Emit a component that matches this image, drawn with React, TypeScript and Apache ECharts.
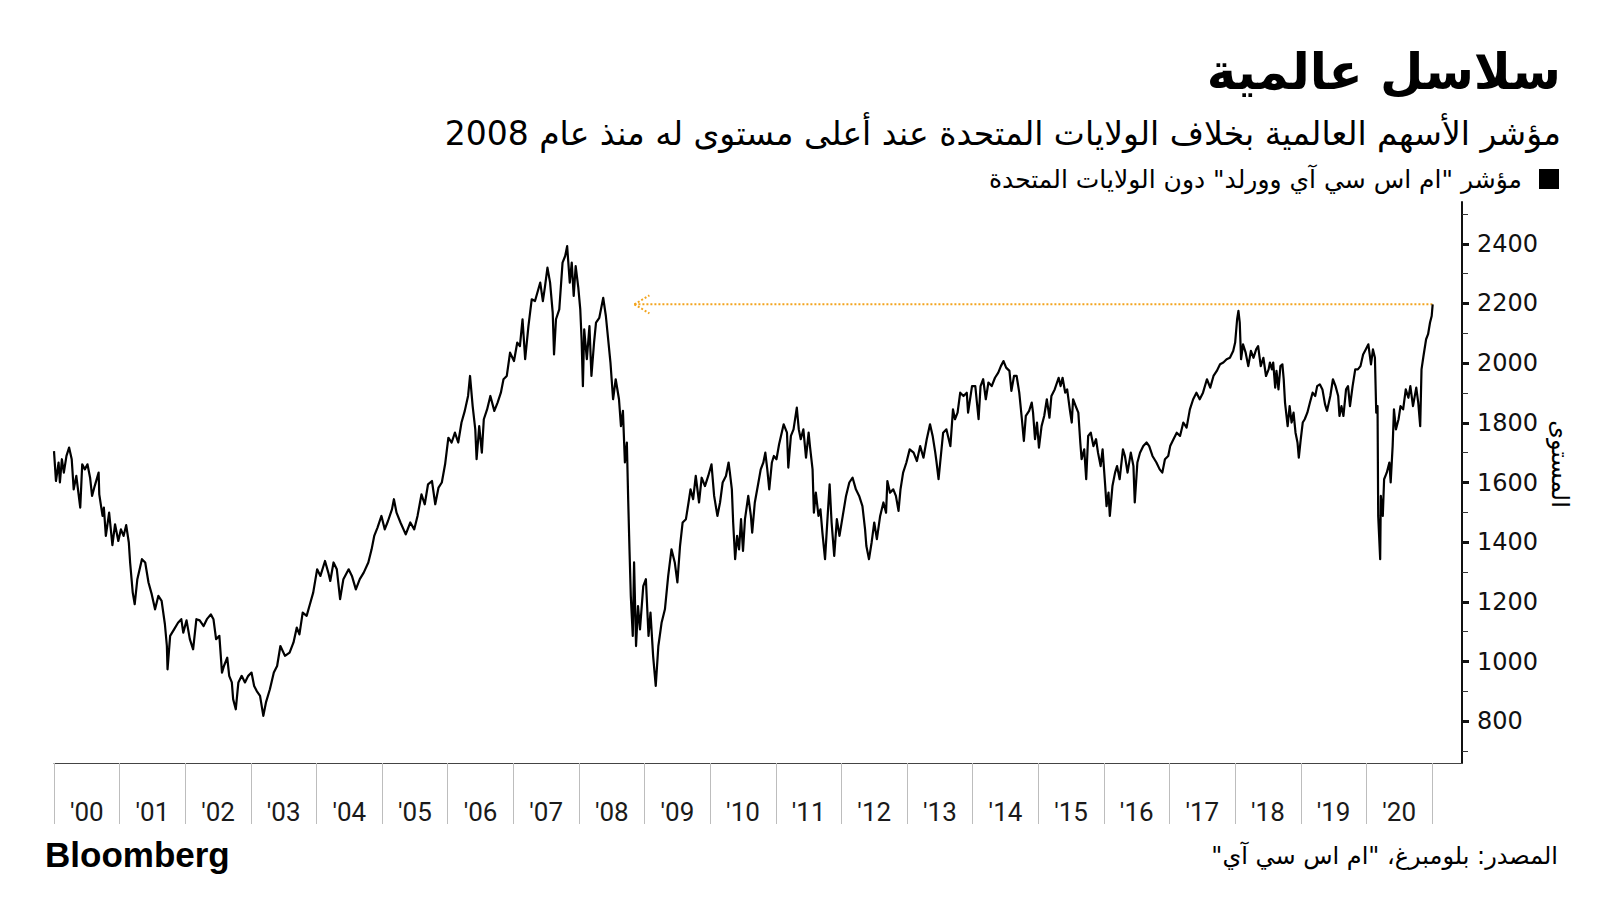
import React, { useEffect, useRef } from "react";
import * as echarts from "echarts";

// ---- Data : [decimal year, index level] ----
const seg2000: [number, number][] = [
  [2000.0, 1705], [2000.03, 1605], [2000.07, 1667], [2000.09, 1600], [2000.12, 1678], [2000.15, 1633], [2000.19, 1689], [2000.23, 1717], [2000.27, 1678], [2000.3, 1577], [2000.34, 1622], [2000.4, 1516], [2000.43, 1661], [2000.47, 1644], [2000.51, 1661], [2000.55, 1616], [2000.58, 1555], [2000.62, 1588], [2000.68, 1633], [2000.69, 1560], [2000.74, 1488], [2000.76, 1516], [2000.79, 1421], [2000.84, 1499], [2000.89, 1390], [2000.93, 1460], [2000.98, 1404],
  [2001.02, 1443], [2001.06, 1421], [2001.1, 1457], [2001.14, 1399], [2001.16, 1332], [2001.2, 1231], [2001.23, 1192], [2001.27, 1276], [2001.34, 1343], [2001.39, 1332], [2001.44, 1265], [2001.49, 1225], [2001.54, 1175], [2001.59, 1220], [2001.64, 1203], [2001.69, 1125], [2001.72, 1052], [2001.73, 974], [2001.77, 1086], [2001.83, 1108], [2001.89, 1130], [2001.94, 1142], [2001.97, 1097],
  [2002.02, 1138], [2002.07, 1075], [2002.12, 1041], [2002.17, 1142], [2002.22, 1138], [2002.28, 1119], [2002.33, 1142], [2002.39, 1158], [2002.43, 1142], [2002.47, 1075], [2002.52, 1086], [2002.56, 963], [2002.59, 985], [2002.64, 1013], [2002.67, 952], [2002.71, 930], [2002.73, 874], [2002.77, 840], [2002.81, 930], [2002.86, 952], [2002.91, 930], [2002.96, 952],
  [2003.01, 963], [2003.05, 918], [2003.09, 901], [2003.14, 885], [2003.19, 818], [2003.23, 863], [2003.29, 907], [2003.35, 963], [2003.4, 985], [2003.45, 1052], [2003.52, 1019], [2003.59, 1030],
];

const seg2003: [number, number][] = [
  [2003.65, 1064], [2003.7, 1114], [2003.74, 1091], [2003.79, 1164], [2003.85, 1153], [2003.9, 1192], [2003.95, 1231],
  [2004.01, 1309], [2004.06, 1287], [2004.13, 1337], [2004.18, 1298], [2004.21, 1270], [2004.26, 1332], [2004.31, 1309], [2004.36, 1209], [2004.41, 1276], [2004.49, 1309], [2004.54, 1287], [2004.6, 1242], [2004.66, 1276], [2004.72, 1298], [2004.79, 1332], [2004.84, 1376], [2004.88, 1421], [2004.93, 1449], [2004.99, 1488],
  [2005.04, 1443], [2005.09, 1471], [2005.15, 1510], [2005.18, 1544], [2005.22, 1499], [2005.28, 1466], [2005.36, 1426], [2005.43, 1466], [2005.49, 1443], [2005.54, 1488], [2005.6, 1560], [2005.65, 1527], [2005.7, 1594], [2005.76, 1605], [2005.81, 1527], [2005.86, 1583], [2005.91, 1600], [2005.96, 1661],
  [2006.01, 1750], [2006.06, 1734], [2006.11, 1767], [2006.16, 1734], [2006.21, 1801], [2006.26, 1840], [2006.31, 1890], [2006.34, 1957], [2006.38, 1856], [2006.42, 1778], [2006.44, 1678], [2006.48, 1789], [2006.52, 1700], [2006.55, 1812], [2006.6, 1845], [2006.65, 1890], [2006.71, 1840], [2006.76, 1868], [2006.81, 1901], [2006.85, 1946], [2006.9, 1957], [2006.95, 2035],
  [2007.01, 2007], [2007.06, 2069], [2007.1, 2057], [2007.14, 2147], [2007.18, 2013], [2007.23, 2124], [2007.28, 2214], [2007.33, 2208], [2007.38, 2247],
];

const seg2007: [number, number][] = [
  [2007.41, 2270], [2007.45, 2208], [2007.48, 2253], [2007.52, 2320], [2007.56, 2270], [2007.6, 2169], [2007.62, 2029], [2007.65, 2147], [2007.7, 2180], [2007.75, 2337], [2007.79, 2359], [2007.82, 2392], [2007.86, 2270], [2007.89, 2337], [2007.92, 2225], [2007.95, 2325], [2007.99, 2253],
  [2008.02, 2180], [2008.04, 2080], [2008.06, 1923], [2008.08, 2113], [2008.12, 2013], [2008.16, 2124], [2008.19, 1957], [2008.23, 2069], [2008.26, 2136], [2008.31, 2152], [2008.37, 2219], [2008.41, 2158], [2008.45, 2069], [2008.48, 2002], [2008.52, 1879], [2008.56, 1946], [2008.61, 1879], [2008.64, 1789], [2008.67, 1840], [2008.7, 1667], [2008.73, 1734], [2008.75, 1544], [2008.77, 1376], [2008.79, 1220], [2008.82, 1086], [2008.84, 1332], [2008.87, 1052], [2008.9, 1186], [2008.93, 1108], [2008.98, 1253],
  [2009.02, 1276], [2009.06, 1086], [2009.09, 1164], [2009.13, 1019], [2009.17, 918], [2009.21, 1052], [2009.26, 1131], [2009.31, 1175], [2009.36, 1287], [2009.41, 1376], [2009.46, 1332], [2009.5, 1265], [2009.54, 1387], [2009.58, 1466], [2009.63, 1477], [2009.67, 1533], [2009.7, 1577], [2009.74, 1544], [2009.78, 1622], [2009.83, 1533], [2009.87, 1616], [2009.92, 1588], [2009.97, 1622],
  [2010.02, 1661], [2010.06, 1555], [2010.11, 1488], [2010.15, 1533], [2010.19, 1600], [2010.24, 1622], [2010.28, 1667],
];

const seg2010: [number, number][] = [
  [2010.3, 1633], [2010.33, 1577], [2010.35, 1466], [2010.38, 1343], [2010.41, 1421], [2010.44, 1376], [2010.47, 1477], [2010.5, 1371], [2010.53, 1477], [2010.58, 1555], [2010.62, 1488], [2010.64, 1432], [2010.68, 1533], [2010.73, 1594], [2010.77, 1644], [2010.81, 1667], [2010.84, 1700], [2010.87, 1644], [2010.9, 1577], [2010.94, 1667], [2010.97, 1689],
  [2011.01, 1678], [2011.05, 1728], [2011.09, 1767], [2011.12, 1795], [2011.17, 1767], [2011.19, 1650], [2011.23, 1756], [2011.27, 1778], [2011.32, 1851], [2011.35, 1778], [2011.38, 1745], [2011.42, 1778], [2011.46, 1683], [2011.5, 1767], [2011.52, 1722], [2011.56, 1644], [2011.58, 1499], [2011.61, 1566], [2011.65, 1488], [2011.68, 1510], [2011.71, 1432], [2011.75, 1343], [2011.79, 1488], [2011.82, 1594], [2011.85, 1466], [2011.89, 1354], [2011.93, 1477], [2011.97, 1421],
  [2012.02, 1488], [2012.07, 1555], [2012.12, 1600], [2012.17, 1616], [2012.22, 1577], [2012.27, 1555], [2012.32, 1521], [2012.36, 1443], [2012.38, 1387], [2012.42, 1343], [2012.46, 1399], [2012.5, 1466], [2012.54, 1410], [2012.59, 1488], [2012.64, 1533], [2012.68, 1499], [2012.7, 1605], [2012.74, 1566], [2012.79, 1577], [2012.83, 1555], [2012.87, 1505], [2012.9, 1577], [2012.94, 1633], [2012.99, 1667],
  [2013.04, 1711], [2013.1, 1700], [2013.15, 1672], [2013.2, 1722], [2013.25, 1683], [2013.3, 1745], [2013.35, 1795], [2013.39, 1756], [2013.43, 1700], [2013.45, 1667], [2013.48, 1611], [2013.51, 1678], [2013.55, 1767], [2013.6, 1778], [2013.66, 1722], [2013.7, 1845], [2013.73, 1812], [2013.77, 1834], [2013.81, 1901], [2013.86, 1890], [2013.91, 1901], [2013.93, 1834], [2013.99, 1923],
  [2014.04, 1923], [2014.09, 1812], [2014.12, 1923], [2014.16, 1946], [2014.2, 1879], [2014.24, 1935], [2014.29, 1923], [2014.34, 1951], [2014.39, 1968], [2014.43, 1990], [2014.47, 2007], [2014.51, 1985], [2014.56, 1974], [2014.59, 1907], [2014.63, 1957], [2014.67, 1957],
];

const seg2014: [number, number][] = [
  [2014.71, 1901], [2014.75, 1812], [2014.78, 1739], [2014.81, 1823], [2014.86, 1840], [2014.9, 1868], [2014.92, 1834], [2014.95, 1745], [2014.98, 1801],
  [2015.01, 1717], [2015.05, 1789], [2015.09, 1823], [2015.13, 1879], [2015.17, 1817], [2015.2, 1890], [2015.25, 1912], [2015.31, 1951], [2015.34, 1923], [2015.37, 1951], [2015.41, 1901], [2015.44, 1912], [2015.48, 1845], [2015.51, 1801], [2015.53, 1879], [2015.57, 1856], [2015.61, 1834], [2015.64, 1734], [2015.66, 1678], [2015.7, 1711], [2015.73, 1611], [2015.76, 1756], [2015.8, 1767], [2015.84, 1722], [2015.88, 1745], [2015.91, 1700], [2015.95, 1655], [2015.98, 1711],
  [2016.02, 1588], [2016.04, 1521], [2016.07, 1566], [2016.09, 1488], [2016.13, 1588], [2016.17, 1633], [2016.2, 1655], [2016.24, 1611], [2016.29, 1711], [2016.32, 1689], [2016.36, 1633], [2016.41, 1700], [2016.45, 1655], [2016.47, 1533], [2016.51, 1667], [2016.55, 1700], [2016.6, 1722], [2016.65, 1734], [2016.69, 1722], [2016.74, 1689], [2016.8, 1667], [2016.85, 1644], [2016.89, 1633], [2016.93, 1678], [2016.98, 1689],
  [2017.01, 1722], [2017.06, 1745], [2017.11, 1767], [2017.16, 1756], [2017.21, 1801], [2017.26, 1784], [2017.31, 1845], [2017.36, 1879], [2017.41, 1901], [2017.46, 1879], [2017.51, 1901], [2017.57, 1946], [2017.62, 1918], [2017.67, 1957], [2017.72, 1974], [2017.77, 1996], [2017.82, 2002], [2017.87, 2013], [2017.92, 2018], [2017.97, 2041],
  [2018.0, 2069], [2018.03, 2147], [2018.05, 2175], [2018.07, 2136], [2018.09, 2013], [2018.12, 2063], [2018.16, 2035], [2018.2, 1990], [2018.24, 2041], [2018.28, 2018], [2018.32, 2046], [2018.35, 2057], [2018.39, 1990], [2018.43, 2018], [2018.47, 1957], [2018.51, 1979],
];

const seg2018: [number, number][] = [
  [2018.53, 2002], [2018.56, 1979], [2018.58, 2002], [2018.61, 1918], [2018.63, 1974], [2018.66, 1912], [2018.69, 1990], [2018.72, 1996], [2018.74, 1946], [2018.76, 1868], [2018.8, 1789], [2018.83, 1856], [2018.86, 1801], [2018.89, 1834], [2018.92, 1767], [2018.95, 1734], [2018.97, 1683],
  [2019.0, 1745], [2019.03, 1801], [2019.06, 1812], [2019.1, 1834], [2019.14, 1868], [2019.18, 1901], [2019.22, 1890], [2019.25, 1923], [2019.29, 1929], [2019.33, 1912], [2019.37, 1862], [2019.4, 1840], [2019.45, 1890], [2019.49, 1946], [2019.53, 1923], [2019.57, 1890], [2019.59, 1823], [2019.62, 1856], [2019.65, 1823], [2019.69, 1912], [2019.72, 1923], [2019.75, 1856], [2019.79, 1923], [2019.83, 1979], [2019.87, 1979], [2019.91, 1990], [2019.95, 2029], [2019.99, 2046],
  [2020.03, 2063], [2020.07, 1996], [2020.1, 2046], [2020.13, 2018], [2020.15, 1834], [2020.17, 1856], [2020.18, 1488], [2020.21, 1343], [2020.22, 1555], [2020.25, 1488], [2020.27, 1611], [2020.31, 1633], [2020.35, 1667], [2020.37, 1600], [2020.4, 1722], [2020.42, 1845], [2020.45, 1778], [2020.49, 1812], [2020.52, 1856], [2020.56, 1845], [2020.6, 1912], [2020.64, 1884], [2020.67, 1923], [2020.71, 1856], [2020.76, 1918], [2020.79, 1868], [2020.82, 1789], [2020.84, 1979], [2020.87, 2024], [2020.91, 2080], [2020.94, 2097], [2020.97, 2136], [2020.995, 2158], [2021.01, 2197],
];

// Annotation: dotted arrow from the latest level back to the 2008 level
const arrowLevel = 2197;
const arrowFrom = 2008.845;
const arrowTo = 2021.01;

// Axes
const yearStarts = [2000, 2001, 2002, 2003, 2004, 2005, 2006, 2007, 2008, 2009, 2010, 2011, 2012, 2013, 2014, 2015, 2016, 2017, 2018, 2019, 2020, 2021];
const yearMids = [2000.5, 2001.5, 2002.5, 2003.5, 2004.5, 2005.5, 2006.5, 2007.5, 2008.5, 2009.5, 2010.5, 2011.5, 2012.5, 2013.5, 2014.5, 2015.5, 2016.5, 2017.5, 2018.5, 2019.5, 2020.5];
const yearLabels = ["'00", "'01", "'02", "'03", "'04", "'05", "'06", "'07", "'08", "'09", "'10", "'11", "'12", "'13", "'14", "'15", "'16", "'17", "'18", "'19", "'20"];
const yLabelValues = [800, 1000, 1200, 1400, 1600, 1800, 2000, 2200, 2400];
const yMinorTicks = [700, 900, 1100, 1300, 1500, 1700, 1900, 2100, 2300, 2500];

const titleText = "سلاسل عالمية";
const subtitleText = "مؤشر الأسهم العالمية بخلاف الولايات المتحدة عند أعلى مستوى له منذ عام 2008";
const legendText = "مؤشر \"ام اس سي آي وورلد\" دون الولايات المتحدة\u200F";
const yAxisName = "المستوى";
const sourceText = "المصدر: بلومبرغ، \"ام اس سي آي\"\u200F";

const AR_FONT = "'DejaVu Sans', 'Noto Sans', sans-serif";

export default function App() {
  const ref = useRef<HTMLDivElement>(null);

  useEffect(() => {
    if (!ref.current) return;
    const chart = echarts.init(ref.current, undefined, { renderer: "svg" });
    const lineData = [...seg2000, ...seg2003, ...seg2007, ...seg2010, ...seg2014, ...seg2018];

    const yMin = 660;
    const yMax = 2540;

    const option: any = {
      animation: false,
      backgroundColor: "#ffffff",
      grid: { left: 54, right: 138, top: 202, bottom: 137, containLabel: false },
      xAxis: {
        type: "value",
        min: 2000,
        max: 2021.457,
        splitLine: { show: false },
        axisLine: { show: true, onZero: false, lineStyle: { color: "#444", width: 1 } },
        axisTick: {
          show: true,
          customValues: yearStarts,
          length: 61,
          inside: false,
          lineStyle: { color: "#bdbdbd", width: 1 },
        },
        axisLabel: {
          show: true,
          customValues: yearMids,
          margin: 36,
          fontSize: 26,
          fontFamily: "Roboto, 'Open Sans', sans-serif",
          color: "#1a1a1a",
          formatter: (v: number) => yearLabels[Math.floor(v) - 2000] ?? "",
        },
      },
      yAxis: [
        {
          type: "value",
          position: "right",
          min: yMin,
          max: yMax,
          splitLine: { show: false },
          axisLine: { show: true, lineStyle: { color: "#111", width: 2 } },
          axisTick: {
            show: true,
            customValues: yMinorTicks,
            length: 6,
            lineStyle: { color: "#333", width: 1 },
          },
          axisLabel: {
            show: true,
            customValues: yLabelValues,
            margin: 15,
            fontSize: 24,
            fontFamily: "'DejaVu Sans', sans-serif",
            color: "#111",
            formatter: (v: number) => String(v),
          },
        },
        {
          type: "value",
          position: "right",
          min: yMin,
          max: yMax,
          splitLine: { show: false },
          axisLine: { show: false },
          axisTick: {
            show: true,
            customValues: yLabelValues,
            length: 7,
            lineStyle: { color: "#111", width: 3 },
          },
          axisLabel: { show: false },
        },
      ],
      series: [
        {
          type: "custom",
          coordinateSystem: "cartesian2d",
          yAxisIndex: 0,
          silent: true,
          z: 1,
          data: [[arrowFrom, arrowLevel, arrowTo]],
          renderItem: (_params: any, api: any) => {
            const a = api.coord([api.value(0), api.value(1)]);
            const b = api.coord([api.value(2), api.value(1)]);
            const style = { stroke: "#F2A41E", lineWidth: 2, lineDash: [2, 2], fill: null };
            return {
              type: "group",
              children: [
                { type: "line", shape: { x1: a[0], y1: a[1], x2: b[0], y2: b[1] }, style },
                { type: "line", shape: { x1: a[0], y1: a[1], x2: a[0] + 15, y2: a[1] - 9 }, style },
                { type: "line", shape: { x1: a[0], y1: a[1], x2: a[0] + 15, y2: a[1] + 9 }, style },
              ],
            };
          },
        },
        {
          type: "line",
          yAxisIndex: 0,
          data: lineData,
          showSymbol: false,
          symbol: "none",
          silent: true,
          z: 2,
          lineStyle: { color: "#000", width: 2.2, join: "round" },
        },
      ],
      graphic: [
        {
          type: "text",
          x: 1561,
          y: 72,
          style: {
            text: titleText,
            fontSize: 50,
            fontWeight: "bold",
            fontFamily: AR_FONT,
            fill: "#000",
            align: "right",
            verticalAlign: "middle",
            textAlign: "right",
            textVerticalAlign: "middle",
          },
        },
        {
          type: "text",
          x: 1561,
          y: 133,
          style: {
            text: subtitleText,
            fontSize: 33,
            fontFamily: AR_FONT,
            fill: "#000",
            align: "right",
            verticalAlign: "middle",
            textAlign: "right",
            textVerticalAlign: "middle",
          },
        },
        {
          type: "rect",
          shape: { x: 1539, y: 169, width: 20, height: 20 },
          style: { fill: "#000" },
        },
        {
          type: "text",
          x: 1522,
          y: 179,
          style: {
            text: legendText,
            fontSize: 25,
            fontFamily: AR_FONT,
            fill: "#000",
            align: "right",
            verticalAlign: "middle",
            textAlign: "right",
            textVerticalAlign: "middle",
          },
        },
        {
          type: "text",
          x: 1560,
          y: 464,
          rotation: -Math.PI / 2,
          style: {
            text: yAxisName,
            fontSize: 24,
            fontFamily: AR_FONT,
            fill: "#000",
            align: "center",
            verticalAlign: "middle",
            textAlign: "center",
            textVerticalAlign: "middle",
          },
        },
        {
          type: "text",
          x: 45,
          y: 854,
          style: {
            text: "Bloomberg",
            fontSize: 35,
            fontWeight: "bold",
            fontFamily: "'Liberation Sans', Arial, sans-serif",
            fill: "#000",
            align: "left",
            verticalAlign: "middle",
            textAlign: "left",
            textVerticalAlign: "middle",
          },
        },
        {
          type: "text",
          x: 1558,
          y: 856,
          style: {
            text: sourceText,
            fontSize: 24,
            fontFamily: AR_FONT,
            fill: "#000",
            align: "right",
            verticalAlign: "middle",
            textAlign: "right",
            textVerticalAlign: "middle",
          },
        },
      ],
    };

    chart.setOption(option);
    return () => {
      chart.dispose();
    };
  }, []);

  return (
    <div
      ref={ref}
      style={{ position: "fixed", left: 0, top: 0, width: 1600, height: 900, background: "#fff" }}
    />
  );
}
